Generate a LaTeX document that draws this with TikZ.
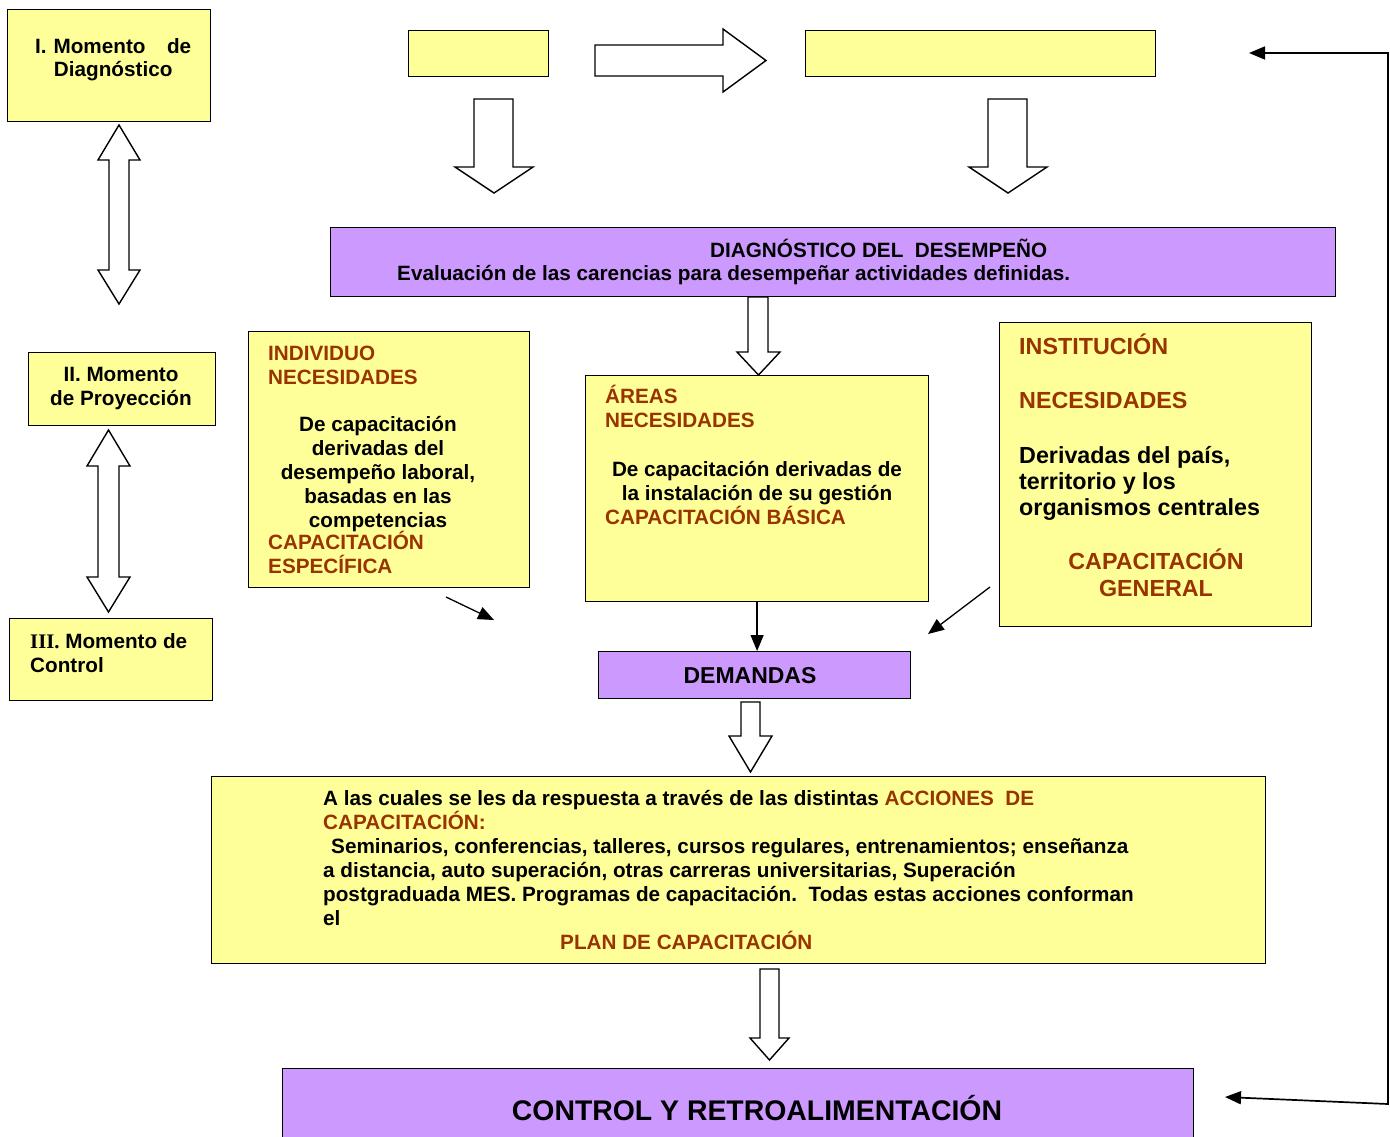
\documentclass[tikz,border=0pt]{standalone}
\usepackage{fontspec}
\setmainfont{Liberation Sans}
\newfontfamily\serifb{Liberation Serif}
\usetikzlibrary{arrows.meta}
\definecolor{yfill}{HTML}{FFFF99}
\definecolor{pfill}{HTML}{CC99FF}
\definecolor{dred}{HTML}{993300}
\newcommand\fsz[2]{\fontsize{#1}{#2}\selectfont\bfseries}
\tikzset{
  ybox/.style={draw=black, fill=yfill, line width=1.2pt, inner sep=0pt, anchor=north west},
  pbox/.style={draw=black, fill=pfill, line width=1.2pt, inner sep=0pt, anchor=north west},
  blk/.style={draw=black, fill=white, line width=1.4pt, line join=miter},
  txt/.style={inner sep=0pt, font=\fsz{20.7}{24}, align=left, anchor=base west},
  ctxt/.style={inner sep=0pt, font=\fsz{20.7}{24}, align=center, anchor=base},
  big/.style={inner sep=0pt, font=\fsz{23.3}{26}, align=left, anchor=base west},
  red/.style={text=dred},
  thin/.style={draw=black, line width=1.3pt, -{Triangle[length=16pt,width=13pt]}},
}
\begin{document}
\begin{tikzpicture}[x=1pt,y=-1pt]
\useasboundingbox (0,0) rectangle (1390,1136);

% left column
\node[ybox, minimum width=203pt, minimum height=112pt] (m1) at (7,9) {};
\node[inner sep=0pt, font=\fsz{20.7}{23}, align=center, text width=156pt, anchor=base west] (m1t) at (35,53) {I. Momento\hfill de\\Diagnóstico};
\node[ybox, minimum width=187pt, minimum height=73pt] (m2) at (28,352) {};
\node[inner sep=0pt, font=\fsz{20.7}{24}, align=center, anchor=base] (m2t) at (121,405) {II. Momento\\de Proyección};
\node[ybox, minimum width=203pt, minimum height=82pt] (m3) at (9,618) {};
\node[txt] (m3t) at (30,672) {{\serifb III.} Momento de\\Control};

\draw[blk] (119,125)--(140,160)--(129,160)--(129,270)--(140,270)--(119,304)--(98,270)--(109,270)--(109,160)--(98,160)--cycle;
\draw[blk] (108.5,430)--(130,466)--(119,466)--(119,577)--(130,577)--(108.5,612)--(87,577)--(98,577)--(98,466)--(87,466)--cycle;

% top row
\node[ybox, minimum width=140pt, minimum height=46pt] (e1) at (408,30) {};
\node[ybox, minimum width=350pt, minimum height=46pt] (e2) at (805,30) {};
\draw[blk] (595,45)--(723,45)--(723,29)--(766,60.5)--(723,92)--(723,76)--(595,76)--cycle;
\draw[blk] (474,99)--(513,99)--(513,167)--(533,167)--(494,193)--(455,167)--(474,167)--cycle;
\draw[blk] (988,99)--(1027,99)--(1027,167)--(1047,167)--(1008,193)--(969,167)--(988,167)--cycle;

% diagnostico
\node[pbox, minimum width=1005pt, minimum height=69pt] (diag) at (330,227) {};
\node[txt] (diagt) at (710,257) {DIAGNÓSTICO DEL\ \ DESEMPEÑO};
\node[txt] (diags) at (397,280) {Evaluación de las carencias para desempeñar actividades definidas.};
\draw[blk] (748,297)--(768,297)--(768,352)--(780,352)--(758.5,375)--(737,352)--(748,352)--cycle;

% individuo
\node[ybox, minimum width=281pt, minimum height=256pt] (ind) at (248,331) {};
\node[txt, red] (indr) at (268,384) {INDIVIDUO\\NECESIDADES};
\node[ctxt] (indc) at (378,527) {De capacitación\\derivadas del\\desempeño laboral,\\basadas en las\\competencias};
\node[txt, red] (indr2) at (268,573) {CAPACITACIÓN\\ESPECÍFICA};

% areas
\node[ybox, minimum width=343pt, minimum height=226pt] (are) at (585,375) {};
\node[txt, red] (arer) at (605,427) {ÁREAS\\NECESIDADES};
\node[ctxt] (arec) at (757,500) {De capacitación derivadas de\\la instalación de su gestión};
\node[txt, red] (arer2) at (605,524) {CAPACITACIÓN BÁSICA};

% institucion
\node[ybox, minimum width=312pt, minimum height=304pt] (ins) at (999,322) {};
\node[big, red] (insr) at (1019,354) {INSTITUCIÓN};
\node[big, red] (insr1) at (1019,408) {NECESIDADES};
\node[big] (insc) at (1019,515) {Derivadas del país,\\territorio y los\\organismos centrales};
\node[inner sep=0pt, font=\fsz{23.3}{27}, align=center, anchor=base, red] (insr2) at (1156,596) {CAPACITACIÓN\\GENERAL};

% demandas
\node[pbox, minimum width=312pt, minimum height=47pt] (dem) at (598,651) {};
\node[inner sep=0pt, font=\fsz{23}{26}, anchor=base] (demt) at (750,683) {DEMANDAS};

\coordinate (a1s) at (446,597);
\coordinate (a1e) at (494,620);
\coordinate (a2s) at (990,587);
\coordinate (a2e) at (928,634);
\draw[thin] (a1s) -- (a1e);
\draw[thin] (a2s) -- (a2e);
\draw[thin] (are.south) -- (dem.north -| are.south);

\draw[blk] (741,702)--(760,702)--(760,736)--(772,736)--(750.5,772)--(729,736)--(741,736)--cycle;

% acciones
\node[ybox, minimum width=1054pt, minimum height=187pt] (acc) at (211,776) {};
\node[txt] (acct) at (323,925) {A las cuales se les da respuesta a través de las distintas \textcolor{dred}{ACCIONES\ \ DE}\\
\textcolor{dred}{CAPACITACIÓN:}\\
\hspace*{8pt}Seminarios, conferencias, talleres, cursos regulares, entrenamientos; enseñanza\\
a distancia, auto superación, otras carreras universitarias, Superación\\
postgraduada MES. Programas de capacitación.\ \ Todas estas acciones conforman\\
el};
\node[txt, red] (plan) at (560,949) {PLAN DE CAPACITACIÓN};

\draw[blk] (760,969)--(779,969)--(779,1038)--(789,1038)--(769.5,1060)--(750,1038)--(760,1038)--cycle;

% control
\node[pbox, minimum width=911pt, minimum height=80pt] (ctl) at (282,1068) {};
\node[inner sep=0pt, font=\fsz{28.4}{32}, anchor=base] (ctlt) at (757,1120) {CONTROL Y RETROALIMENTACIÓN};

% feedback
\coordinate (fbTop) at (1249,53);
\coordinate (fbTR) at (1388,53);
\coordinate (fbBR) at (1388,1104);
\coordinate (fbBot) at (1225,1097);
\draw[line width=1.7pt, {Triangle[length=16pt,width=13pt]}-{Triangle[length=16pt,width=13pt]}] (fbTop) -- (fbTR) -- (fbBR) -- (fbBot);
\end{tikzpicture}
\end{document}
